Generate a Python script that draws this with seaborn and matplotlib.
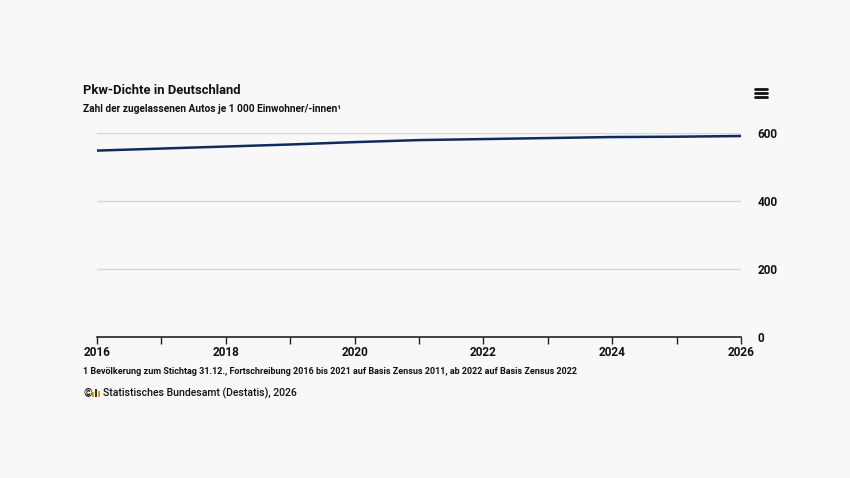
import matplotlib
matplotlib.use("Agg")
import matplotlib.pyplot as plt
from matplotlib.lines import Line2D
from matplotlib.patches import Rectangle
import pandas as pd
import seaborn as sns

# Pkw je 1 000 Einwohner/-innen
years = [2016, 2017, 2018, 2019, 2020, 2021, 2022, 2023, 2024, 2025, 2026]
pkw_dichte = [549, 555, 561, 567, 574, 580, 583, 586, 589, 590, 592]

y_ticks = [0, 200, 400, 600]
x_labels = [2016, 2018, 2020, 2022, 2024, 2026]

title = "Pkw-Dichte in Deutschland"
subtitle = "Zahl der zugelassenen Autos je 1\u202f000 Einwohner/-innen\u00b9"
footnote = ("1 Bevölkerung zum Stichtag 31.12., Fortschreibung 2016 bis 2021 auf Basis "
            "Zensus 2011, ab 2022 auf Basis Zensus 2022")
source = "Statistisches Bundesamt (Destatis), 2026"

BG = "#f8f8f8"
LINE = "#0f2b5b"

sns.set_theme(style="white")
plt.rcParams["font.family"] = ["Roboto", "DejaVu Sans"]

df = pd.DataFrame({"Jahr": years, "Pkw": pkw_dichte})

fig = plt.figure(figsize=(8.5, 4.78), dpi=100, facecolor=BG)
ax = fig.add_axes([0.1141, 0.296, 0.8718 - 0.1141, 0.7211 - 0.296])
ax.set_facecolor(BG)

sns.lineplot(data=df, x="Jahr", y="Pkw", color=LINE, linewidth=1.8, ax=ax)

ax.set_xlim(years[0], years[-1])
ax.set_ylim(0, 600)
ax.set_yticks(y_ticks)
ax.set_xticks(years)
ax.set_xticklabels([str(y) if y in x_labels else "" for y in years])
for y in y_ticks[1:]:
    ax.axhline(y, color="#d6d6d6", linewidth=1.0, zorder=0)

for s in ["top", "left", "right"]:
    ax.spines[s].set_visible(False)
ax.spines["bottom"].set_color("#222222")
ax.spines["bottom"].set_linewidth(1.2)

ax.yaxis.tick_right()
ax.tick_params(axis="y", length=0, pad=12, labelsize=8.5, labelcolor="#111111")
ax.tick_params(axis="x", bottom=True, direction="out", length=5, width=1.0,
               color="#222222", pad=2, labelsize=8.5, labelcolor="#111111")
for lab in ax.get_xticklabels() + ax.get_yticklabels():
    lab.set_fontweight("bold")
ax.set_xlabel("")
ax.set_ylabel("")

fig.text(83 / 850, 1 - 90 / 478, title, fontsize=9.4, fontweight="bold",
         color="#111111", va="center", ha="left")
fig.text(83 / 850, 1 - 109 / 478, subtitle, fontsize=7.3, fontweight="bold",
         color="#111111", va="center", ha="left")
fig.text(83 / 850, 1 - 371 / 478, footnote, fontsize=6.5, fontweight="bold",
         color="#111111", va="center", ha="left")
fig.text(83 / 850, 1 - 393 / 478, "\u00a9", fontsize=8.0, fontweight="bold",
         color="#111111", va="center", ha="left")
fig.text(103 / 850, 1 - 393 / 478, source, fontsize=7.6, fontweight="medium",
         color="#111111", va="center", ha="left")

# small Destatis logo next to the copyright sign
for i, (h, c) in enumerate([(5, "#e0a200"), (8, "#333333"), (6, "#e0a200")]):
    fig.add_artist(Rectangle(((92 + i * 3) / 850, 1 - 397 / 478), 2 / 850, h / 478,
                             transform=fig.transFigure, color=c, lw=0))

# menu icon
for dy in (89, 93, 97):
    fig.add_artist(Line2D([755 / 850, 767 / 850], [1 - dy / 478] * 2,
                          transform=fig.transFigure, color="#111111", linewidth=2.0))

fig.savefig("out.png", dpi=100, facecolor=BG)
